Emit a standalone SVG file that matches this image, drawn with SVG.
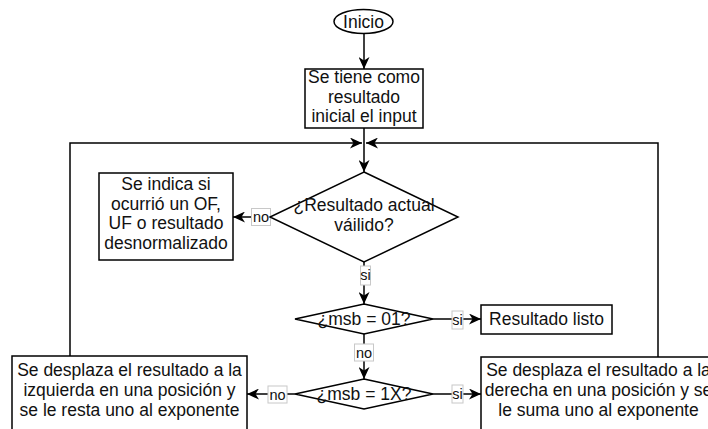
<svg xmlns="http://www.w3.org/2000/svg" width="708" height="429" viewBox="0 0 708 429">
  <style>
    .shape { fill: #ffffff; stroke: #000000; stroke-width: 1.5; }
    .edge { fill: none; stroke: #000000; stroke-width: 1.5; }
    .txt { font-family: "Liberation Sans", Arial, Helvetica, sans-serif; font-size: 17.5px; fill: #111111; text-anchor: middle; }
    .lbl-bg { fill: #ffffff; stroke: #c8c8c8; stroke-width: 1; }
    .lbl { font-family: "Liberation Sans", Arial, Helvetica, sans-serif; font-size: 14.5px; fill: #111111; text-anchor: middle; }
  </style>
  <defs>
    <marker id="arrow" markerUnits="userSpaceOnUse" markerWidth="12" markerHeight="11" refX="12" refY="5.5" orient="auto">
      <path d="M0,0 L12,5.5 L0,11 L3.5,5.5 Z" fill="#000000"/>
    </marker>
  </defs>
  <rect x="0" y="0" width="708" height="429" fill="#ffffff"/>

  <!-- connectors -->
  <g id="connectors">
    <line class="edge" x1="364" y1="33" x2="364" y2="69" marker-end="url(#arrow)"/>
    <line class="edge" x1="364" y1="128" x2="364" y2="172" marker-end="url(#arrow)"/>
    <polyline class="edge" points="70,356 70,143 362,143" marker-end="url(#arrow)"/>
    <polyline class="edge" points="658,357 658,143 366,143" marker-end="url(#arrow)"/>
    <line class="edge" x1="270" y1="217" x2="233" y2="217" marker-end="url(#arrow)"/>
    <line class="edge" x1="364" y1="262" x2="364" y2="304" marker-end="url(#arrow)"/>
    <line class="edge" x1="433" y1="319" x2="481" y2="319" marker-end="url(#arrow)"/>
    <line class="edge" x1="364" y1="334" x2="364" y2="379" marker-end="url(#arrow)"/>
    <line class="edge" x1="295" y1="394" x2="247" y2="394" marker-end="url(#arrow)"/>
    <line class="edge" x1="433" y1="394" x2="481" y2="394" marker-end="url(#arrow)"/>

    <!-- edge labels -->
    <g id="label-no-1">
      <rect class="lbl-bg" x="251.5" y="208.5" width="19" height="17"/>
      <text class="lbl" x="261" y="222">no</text>
    </g>
    <g id="label-si-1">
      <rect class="lbl-bg" x="360.5" y="266" width="10" height="19"/>
      <text class="lbl" x="365.5" y="280">si</text>
    </g>
    <g id="label-si-2">
      <rect class="lbl-bg" x="452" y="311" width="11" height="18"/>
      <text class="lbl" x="457.5" y="325">si</text>
    </g>
    <g id="label-no-2">
      <rect class="lbl-bg" x="354.5" y="344" width="19" height="17"/>
      <text class="lbl" x="364" y="357.5">no</text>
    </g>
    <g id="label-no-3">
      <rect class="lbl-bg" x="268" y="386" width="19" height="17"/>
      <text class="lbl" x="277.5" y="399.5">no</text>
    </g>
    <g id="label-si-3">
      <rect class="lbl-bg" x="452" y="385" width="11" height="18"/>
      <text class="lbl" x="457.5" y="399">si</text>
    </g>
  </g>

  <!-- nodes -->
  <g id="inicio">
    <ellipse class="shape" cx="363.5" cy="21.5" rx="29.5" ry="12"/>
    <text class="txt" x="363.5" y="27.5">Inicio</text>
  </g>

  <g id="resultado-inicial">
    <rect class="shape" x="305" y="69" width="118" height="59"/>
    <text class="txt" x="364" y="83">Se tiene como</text>
    <text class="txt" x="364" y="102.5">resultado</text>
    <text class="txt" x="364" y="122">inicial el input</text>
  </g>

  <g id="resultado-valido">
    <polygon class="shape" points="364,172 458,217 364,262 270,217"/>
    <text class="txt" x="364" y="211">¿Resultado actual</text>
    <text class="txt" x="364" y="231">váilido?</text>
  </g>

  <g id="indicar-error">
    <rect class="shape" x="99" y="173" width="134" height="87"/>
    <text class="txt" x="166" y="190">Se indica si</text>
    <text class="txt" x="166" y="209.5">ocurrió un OF,</text>
    <text class="txt" x="166" y="229">UF o resultado</text>
    <text class="txt" x="166" y="248.5">desnormalizado</text>
  </g>

  <g id="msb-01">
    <polygon class="shape" points="364,304 433,319 364,334 295,319"/>
    <text class="txt" x="364" y="325">¿msb = 01?</text>
  </g>

  <g id="resultado-listo">
    <rect class="shape" x="481" y="305" width="131" height="29"/>
    <text class="txt" x="546.5" y="325">Resultado listo</text>
  </g>

  <g id="msb-1x">
    <polygon class="shape" points="364,379 433,394 364,409 295,394"/>
    <text class="txt" x="364" y="400">¿msb = 1X?</text>
  </g>

  <g id="desplazar-izquierda">
    <rect class="shape" x="12" y="356" width="235" height="90"/>
    <text class="txt" x="129.5" y="376">Se desplaza el resultado a la</text>
    <text class="txt" x="129.5" y="396">izquierda en una posición y</text>
    <text class="txt" x="129.5" y="416">se le resta uno al exponente</text>
  </g>

  <g id="desplazar-derecha">
    <rect class="shape" x="481" y="357" width="235" height="90"/>
    <text class="txt" x="598.5" y="376">Se desplaza el resultado a la</text>
    <text class="txt" x="598.5" y="396">derecha en una posición y se</text>
    <text class="txt" x="598.5" y="416">le suma uno al exponente</text>
  </g>
</svg>
